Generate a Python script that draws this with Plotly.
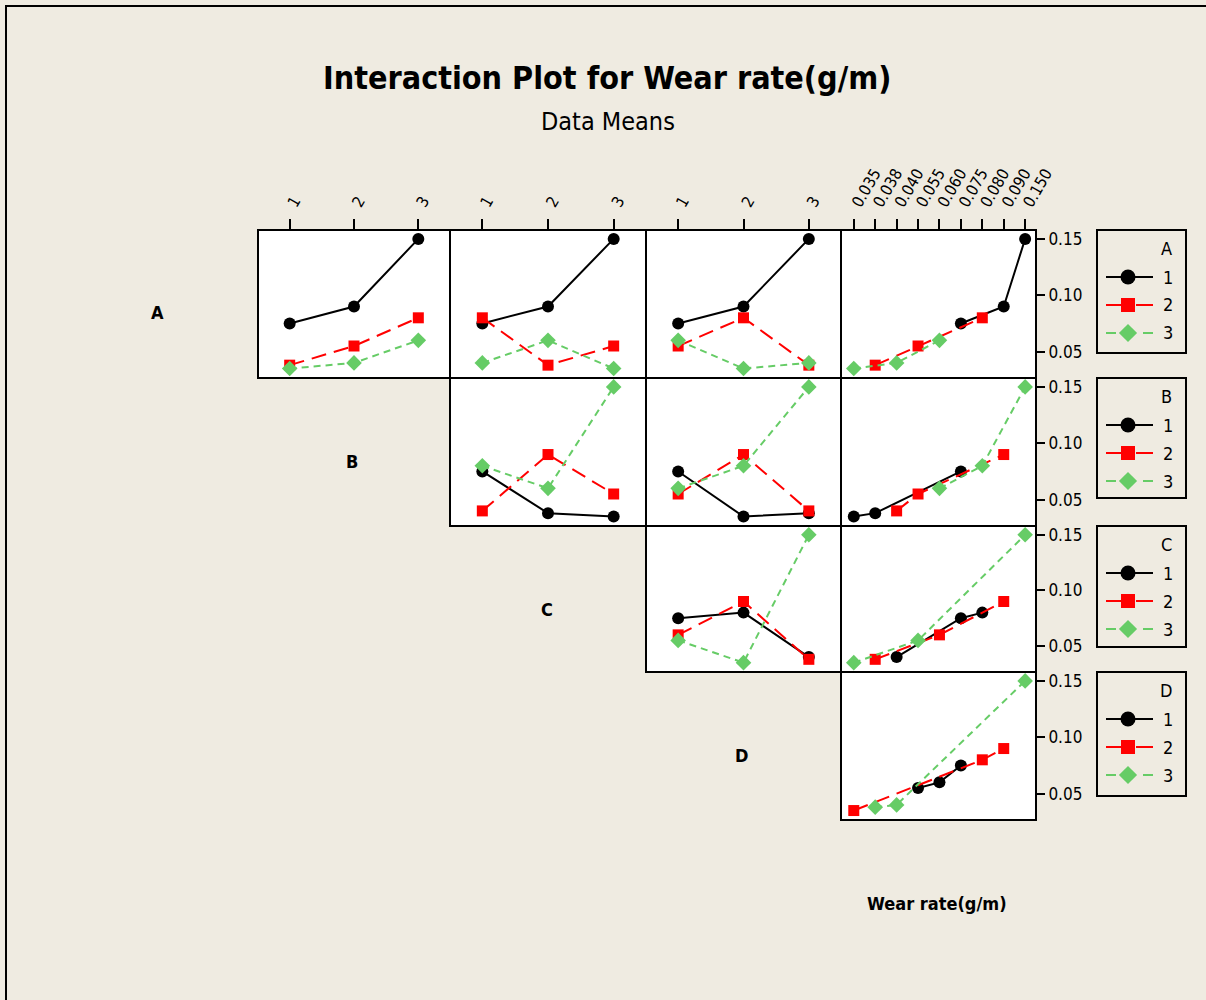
import plotly.graph_objects as go
import pandas as pd

# L9 orthogonal array: factor levels for each run and the measured wear rate (g/m)
A = [1, 1, 1, 2, 2, 2, 3, 3, 3]
B = [1, 2, 3, 1, 2, 3, 1, 2, 3]
C = [1, 2, 3, 2, 3, 1, 3, 1, 2]
D = [1, 2, 3, 3, 1, 2, 2, 3, 1]
wear_rate = [0.075, 0.090, 0.150, 0.038, 0.055, 0.080, 0.035, 0.040, 0.060]

factor_levels = [1, 2, 3]
wear_levels = [0.035, 0.038, 0.040, 0.055, 0.060, 0.075, 0.080, 0.090, 0.150]
wear_tick_text = ["0.035", "0.038", "0.040", "0.055", "0.060", "0.075", "0.080", "0.090", "0.150"]
y_ticks = [0.05, 0.10, 0.15]
y_tick_text = ["0.05", "0.10", "0.15"]

runs = pd.DataFrame({"A": A, "B": B, "C": C, "D": D, "Wear": wear_rate})
runs["WearLevel"] = runs["Wear"].map({v: i for i, v in enumerate(wear_levels)})

row_factors = ["A", "B", "C", "D"]
col_factors = [None, "B", "C", "D", "WearLevel"]

W, H = 1206, 1000
BG = "#EFEBE1"
FONT = "DejaVu Sans Condensed, Liberation Sans Narrow, DejaVu Sans, sans-serif"
GREEN = "#66CC66"

# pixel extents of the grid cells (border lines run along these edges)
col_px = {1: (258, 450), 2: (450, 646), 3: (646, 841), 4: (841, 1036)}
row_px = {0: (230, 378), 1: (378, 526), 2: (526, 672), 3: (672, 820)}
Y_RANGE = [0.0275, 0.1570]
LW = 2  # frame line width; plotly draws axis lines just outside the domain

styles = {
    1: dict(color="black", dash="solid", symbol="circle", size=12, lsym=15),
    2: dict(color="#FF0000", dash="15px,8px", symbol="square", size=11, lsym=14),
    3: dict(color=GREEN, dash="7px,5px", symbol="diamond", size=12, lsym=14),
}


def px_x(v):
    return v / W


def px_y(v):
    return 1 - v / H


fig = go.Figure()
layout = {}
shapes = []
annotations = []

n = 0
for r, rf in enumerate(row_factors):
    for c in range(r + 1, 5):
        n += 1
        cf = col_factors[c]
        xa = "x" if n == 1 else f"x{n}"
        ya = "y" if n == 1 else f"y{n}"
        x0, x1 = col_px[c]
        y0, y1 = row_px[r]
        # white plotting area behind the panel
        shapes.append(dict(type="rect", xref="paper", yref="paper", layer="below",
                           x0=px_x(x0), x1=px_x(x1), y0=px_y(y1), y1=px_y(y0),
                           fillcolor="white", line=dict(width=0)))
        for lvl in factor_levels:
            sub = runs[runs[rf] == lvl].groupby(cf)["Wear"].mean().sort_index()
            st = styles[lvl]
            fig.add_trace(go.Scatter(
                x=list(sub.index), y=list(sub.values), xaxis=xa, yaxis=ya,
                mode="lines+markers", showlegend=False, cliponaxis=False,
                line=dict(color=st["color"], width=2, dash=st["dash"]),
                marker=dict(color=st["color"], symbol=st["symbol"], size=st["size"],
                            line=dict(width=0)),
            ))
        if cf == "WearLevel":
            xr = [-0.55, 8.46]
            tv = list(range(len(wear_levels)))
            tt = wear_tick_text
        else:
            xr = [0.523, 3.477]
            tv = factor_levels
            tt = [str(v) for v in factor_levels]
        xkey = "xaxis" if n == 1 else f"xaxis{n}"
        ykey = "yaxis" if n == 1 else f"yaxis{n}"
        top = (r == 0)
        half = LW / 2
        layout[xkey] = dict(
            domain=[px_x(x0 + half), px_x(x1 - half)], anchor=ya, range=xr,
            showline=True, mirror=True, linecolor="black", linewidth=LW,
            showgrid=False, zeroline=False, fixedrange=True, automargin=False,
            side="top", tickvals=tv, ticktext=tt,
            ticks="outside" if top else "", ticklen=10, tickwidth=1.5, tickcolor="black",
            showticklabels=top, tickangle=-60,
            tickfont=dict(family=FONT, size=16, color="black"),
        )
        right = (c == 4)
        layout[ykey] = dict(
            domain=[px_y(y1 - half), px_y(y0 + half)], anchor=xa, range=Y_RANGE,
            showline=True, mirror=True, linecolor="black", linewidth=LW,
            showgrid=False, zeroline=False, fixedrange=True, automargin=False,
            side="right", tickvals=y_ticks, ticktext=y_tick_text,
            ticks="outside" if right else "", ticklen=8, tickwidth=1.5, tickcolor="black",
            showticklabels=right,
            tickfont=dict(family=FONT, size=17, color="black"),
        )

# factor names on the diagonal
diag_labels = [("A", 157, 313), ("B", 352, 462), ("C", 547, 609), ("D", 741, 755),
               ("Wear rate(g/m)", 937, 903)]
for text, lx, ly in diag_labels:
    annotations.append(dict(text=text, x=px_x(lx), y=px_y(ly), xref="paper", yref="paper",
                            showarrow=False, xanchor="center", yanchor="middle",
                            font=dict(family=FONT, size=18, color="black", weight="bold")))

# one key box per row factor
legend_boxes = {0: (230, 353), 1: (378, 498), 2: (526, 647), 3: (672, 796)}
LX0, LX1 = 1097, 1186
legend_dash = {1: "solid", 2: "17px,13px", 3: "10px,27px"}
for r, rf in enumerate(row_factors):
    n += 1
    xa, ya = f"x{n}", f"y{n}"
    by0, by1 = legend_boxes[r]
    shapes.append(dict(type="rect", xref="paper", yref="paper",
                       x0=px_x(LX0), x1=px_x(LX1), y0=px_y(by1), y1=px_y(by0),
                       line=dict(color="black", width=2), fillcolor="rgba(0,0,0,0)"))
    layout[f"xaxis{n}"] = dict(domain=[px_x(LX0), px_x(LX1)], anchor=ya, range=[LX0, LX1],
                               visible=False, fixedrange=True, automargin=False)
    layout[f"yaxis{n}"] = dict(domain=[px_y(by1), px_y(by0)], anchor=xa, range=[by1, by0],
                               visible=False, fixedrange=True, automargin=False)
    annotations.append(dict(text=rf, x=px_x(1166), y=px_y(by0 + 18), xref="paper", yref="paper",
                            showarrow=False, xanchor="center", yanchor="middle",
                            font=dict(family=FONT, size=18, color="black")))
    for k, lvl in enumerate(factor_levels):
        st = styles[lvl]
        ey = by0 + 47 + 28 * k
        fig.add_trace(go.Scatter(x=[1106, 1153], y=[ey, ey], xaxis=xa, yaxis=ya, mode="lines",
                                 showlegend=False, hoverinfo="skip", cliponaxis=False,
                                 line=dict(color=st["color"], width=2, dash=legend_dash[lvl])))
        fig.add_trace(go.Scatter(x=[1128], y=[ey], xaxis=xa, yaxis=ya, mode="markers",
                                 showlegend=False, hoverinfo="skip", cliponaxis=False,
                                 marker=dict(color=st["color"], symbol=st["symbol"],
                                             size=st["lsym"], line=dict(width=0))))
        annotations.append(dict(text=str(lvl), x=px_x(1168), y=px_y(ey), xref="paper",
                                yref="paper", showarrow=False, xanchor="center",
                                yanchor="middle",
                                font=dict(family=FONT, size=18, color="black")))

# titles
annotations.append(dict(text="Interaction Plot for Wear rate(g/m)", x=px_x(607), y=px_y(78),
                        xref="paper", yref="paper", showarrow=False, xanchor="center",
                        yanchor="middle",
                        font=dict(family=FONT, size=32, color="black", weight="bold")))
annotations.append(dict(text="Data Means", x=px_x(608), y=px_y(121), xref="paper", yref="paper",
                        showarrow=False, xanchor="center", yanchor="middle",
                        font=dict(family=FONT, size=25, color="black")))

# outer frame
shapes.append(dict(type="rect", xref="paper", yref="paper", x0=px_x(6), y0=-0.05,
                   x1=1.05, y1=px_y(6), line=dict(color="black", width=2)))

fig.update_layout(
    width=W, height=H, autosize=False,
    margin=dict(l=0, r=0, t=0, b=0, autoexpand=False),
    paper_bgcolor=BG, plot_bgcolor="rgba(0,0,0,0)",
    shapes=shapes, annotations=annotations,
    hovermode="closest",
    **layout,
)

fig.write_html("out.html", config={"responsive": False})
